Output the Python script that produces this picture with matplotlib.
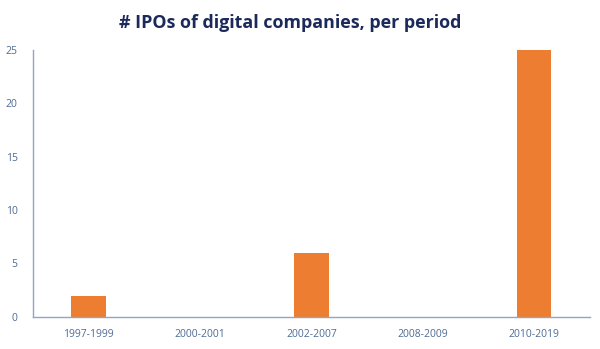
import matplotlib
matplotlib.use("Agg")
import matplotlib.pyplot as plt

periods = ["1997-1999", "2000-2001", "2002-2007", "2008-2009", "2010-2019"]
ipos = [2, 0, 6, 0, 25]
y_ticks = [0, 5, 10, 15, 20, 25]

plt.rcParams["font.family"] = ["Open Sans", "DejaVu Sans"]

fig = plt.figure(figsize=(6, 3.49), dpi=100)
ax = fig.add_axes([0.055, 0.092, 0.928, 0.765])

x = range(len(periods))
ax.bar(x, ipos, width=0.31, color="#ED7D31", zorder=2)

ax.set_xlim(-0.5, len(periods) - 0.5)
ax.set_ylim(0, 25)
ax.set_xticks(list(x))
ax.set_xticklabels(periods)
ax.set_yticks(y_ticks)

for side in ["top", "right"]:
    ax.spines[side].set_visible(False)
for side in ["left", "bottom"]:
    ax.spines[side].set_color("#8FA6C4")
    ax.spines[side].set_linewidth(1.0)

ax.tick_params(axis="both", length=0, labelsize=7.5, labelcolor="#4F6B94")
ax.tick_params(axis="x", pad=9)
ax.tick_params(axis="y", pad=11)

fig.text(0.484, 0.935, "# IPOs of digital companies, per period",
         ha="center", va="center", fontsize=12.9, fontweight="bold",
         color="#1B2A5A")

fig.savefig("out.png", dpi=100)
